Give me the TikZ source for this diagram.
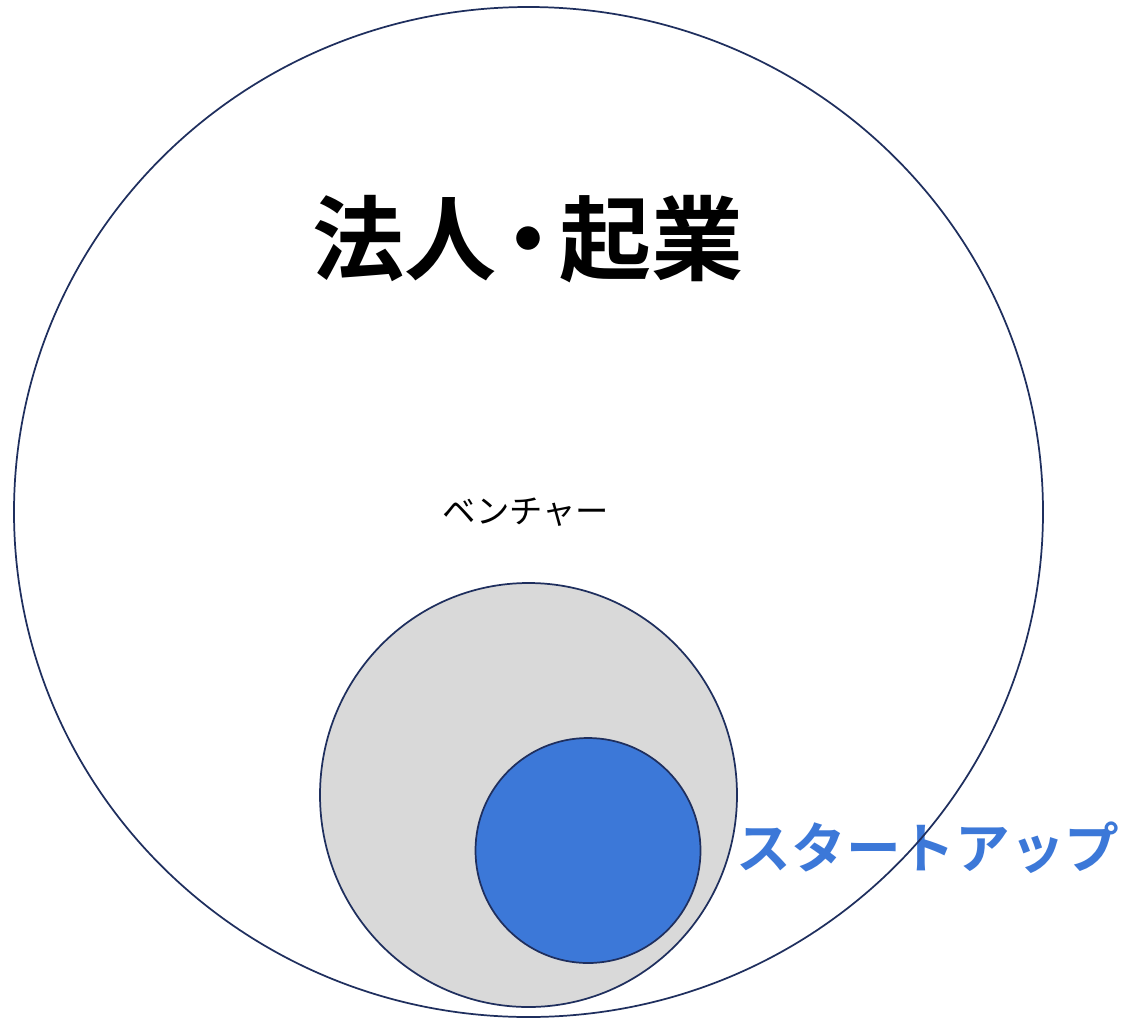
\documentclass[tikz,border=0pt]{standalone}
\usepackage{fontspec}
\newfontfamily\cjk{Noto Sans CJK JP}
\newfontfamily\cjkb{Noto Sans CJK JP Bold}
\definecolor{navy}{HTML}{1F2F5E}
\definecolor{lgray}{HTML}{D9D9D9}
\definecolor{sblue}{HTML}{3C78D8}
\begin{document}
\begin{tikzpicture}[x=0.75pt,y=-0.75pt,
  ring/.style={draw=navy,line width=1.3pt}]
\useasboundingbox (0,0) rectangle (1124,1018);
\fill[white] (0,0) rectangle (1124,1018);
\node[text=sblue,font=\cjkb\fontsize{41}{41}\selectfont,inner sep=0pt] (su) at (928,848) {スタートアップ};
\draw[ring] (528.5,512) ellipse [x radius=514.5, y radius=505];
\node[font=\cjkb\fontsize{69}{69}\selectfont,inner sep=0pt] (title) at (528,239) {法人\hspace{-0.16em}・\hspace{-0.16em}起業};
\node[font=\cjk\fontsize{25}{25}\selectfont,inner sep=0pt] (vc) at (526,512) {ベンチャー};
\draw[ring,fill=lgray] (528.5,795) ellipse [x radius=208.5, y radius=212];
\draw[ring,fill=sblue] (588,850.5) circle [radius=112.5];
\end{tikzpicture}
\end{document}
